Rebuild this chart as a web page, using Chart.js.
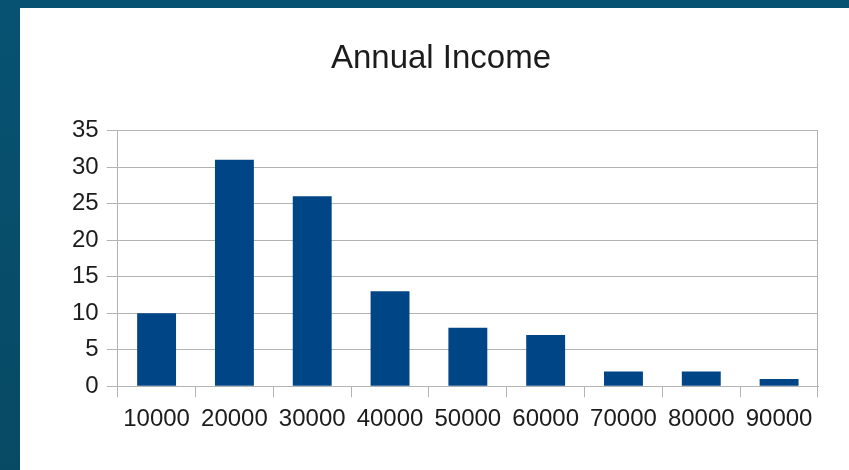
<!DOCTYPE html>
<html>
<head>
<meta charset="utf-8">
<script src="https://cdn.jsdelivr.net/npm/chart.js@4/dist/chart.umd.min.js"></script>
<style>
html,body{margin:0;padding:0;background:#0a4e6c;overflow:hidden;}
canvas{display:block;}
</style>
</head>
<body>
<canvas id="c" width="849" height="470"></canvas>
<script>
const categories = ["10000","20000","30000","40000","50000","60000","70000","80000","90000"];
const counts = [10, 31, 26, 13, 8, 7, 2, 2, 1];
const yTicks = [0, 5, 10, 15, 20, 25, 30, 35];
const chartTitle = "Annual Income";

const GRID = '#b3b3b3';
const TEXT = '#1c1c1c';
const FONT = "'Liberation Sans', Arial, sans-serif";

const bgPlugin = {
  id: 'bg',
  beforeDraw(chart) {
    const ctx = chart.ctx;
    ctx.save();
    const g = ctx.createLinearGradient(0, 0, 0, chart.height);
    g.addColorStop(0, '#075272');
    g.addColorStop(1, '#074a64');
    ctx.fillStyle = g;
    ctx.fillRect(0, 0, chart.width, chart.height);
    ctx.fillStyle = '#ffffff';
    ctx.fillRect(20, 8, chart.width - 20, chart.height - 8);
    ctx.restore();
  }
};

new Chart(document.getElementById('c'), {
  type: 'bar',
  data: {
    labels: categories,
    datasets: [{
      data: counts,
      backgroundColor: '#004586',
      borderWidth: 0,
      categoryPercentage: 1.0,
      barPercentage: 0.5
    }]
  },
  plugins: [bgPlugin],
  options: {
    responsive: false,
    devicePixelRatio: 1,
    animation: false,
    layout: { padding: { left: 64, right: 31, top: 8, bottom: 28 } },
    plugins: {
      legend: { display: false },
      tooltip: { enabled: false },
      title: {
        display: true,
        text: chartTitle,
        color: TEXT,
        font: { family: FONT, size: 33, weight: 'normal' },
        padding: { top: 31, bottom: 52 }
      }
    },
    scales: {
      x: {
        grid: {
          offset: true,
          drawOnChartArea: true,
          color: (c) => (c.index === undefined) ? GRID : 'rgba(0,0,0,0)',
          tickColor: GRID,
          tickLength: 11,
          lineWidth: 1
        },
        border: { display: true, color: GRID },
        ticks: {
          color: TEXT,
          font: { family: FONT, size: 24 },
          padding: 8,
          maxRotation: 0,
          autoSkip: false
        }
      },
      y: {
        min: 0,
        max: 35,
        afterBuildTicks: (axis) => { axis.ticks = yTicks.map(v => ({ value: v })); },
        grid: {
          color: GRID,
          tickColor: GRID,
          tickLength: 11,
          lineWidth: 1
        },
        border: { display: true, color: GRID },
        ticks: {
          color: TEXT,
          font: { family: FONT, size: 24 },
          padding: 8
        }
      }
    }
  }
});
</script>
</body>
</html>
